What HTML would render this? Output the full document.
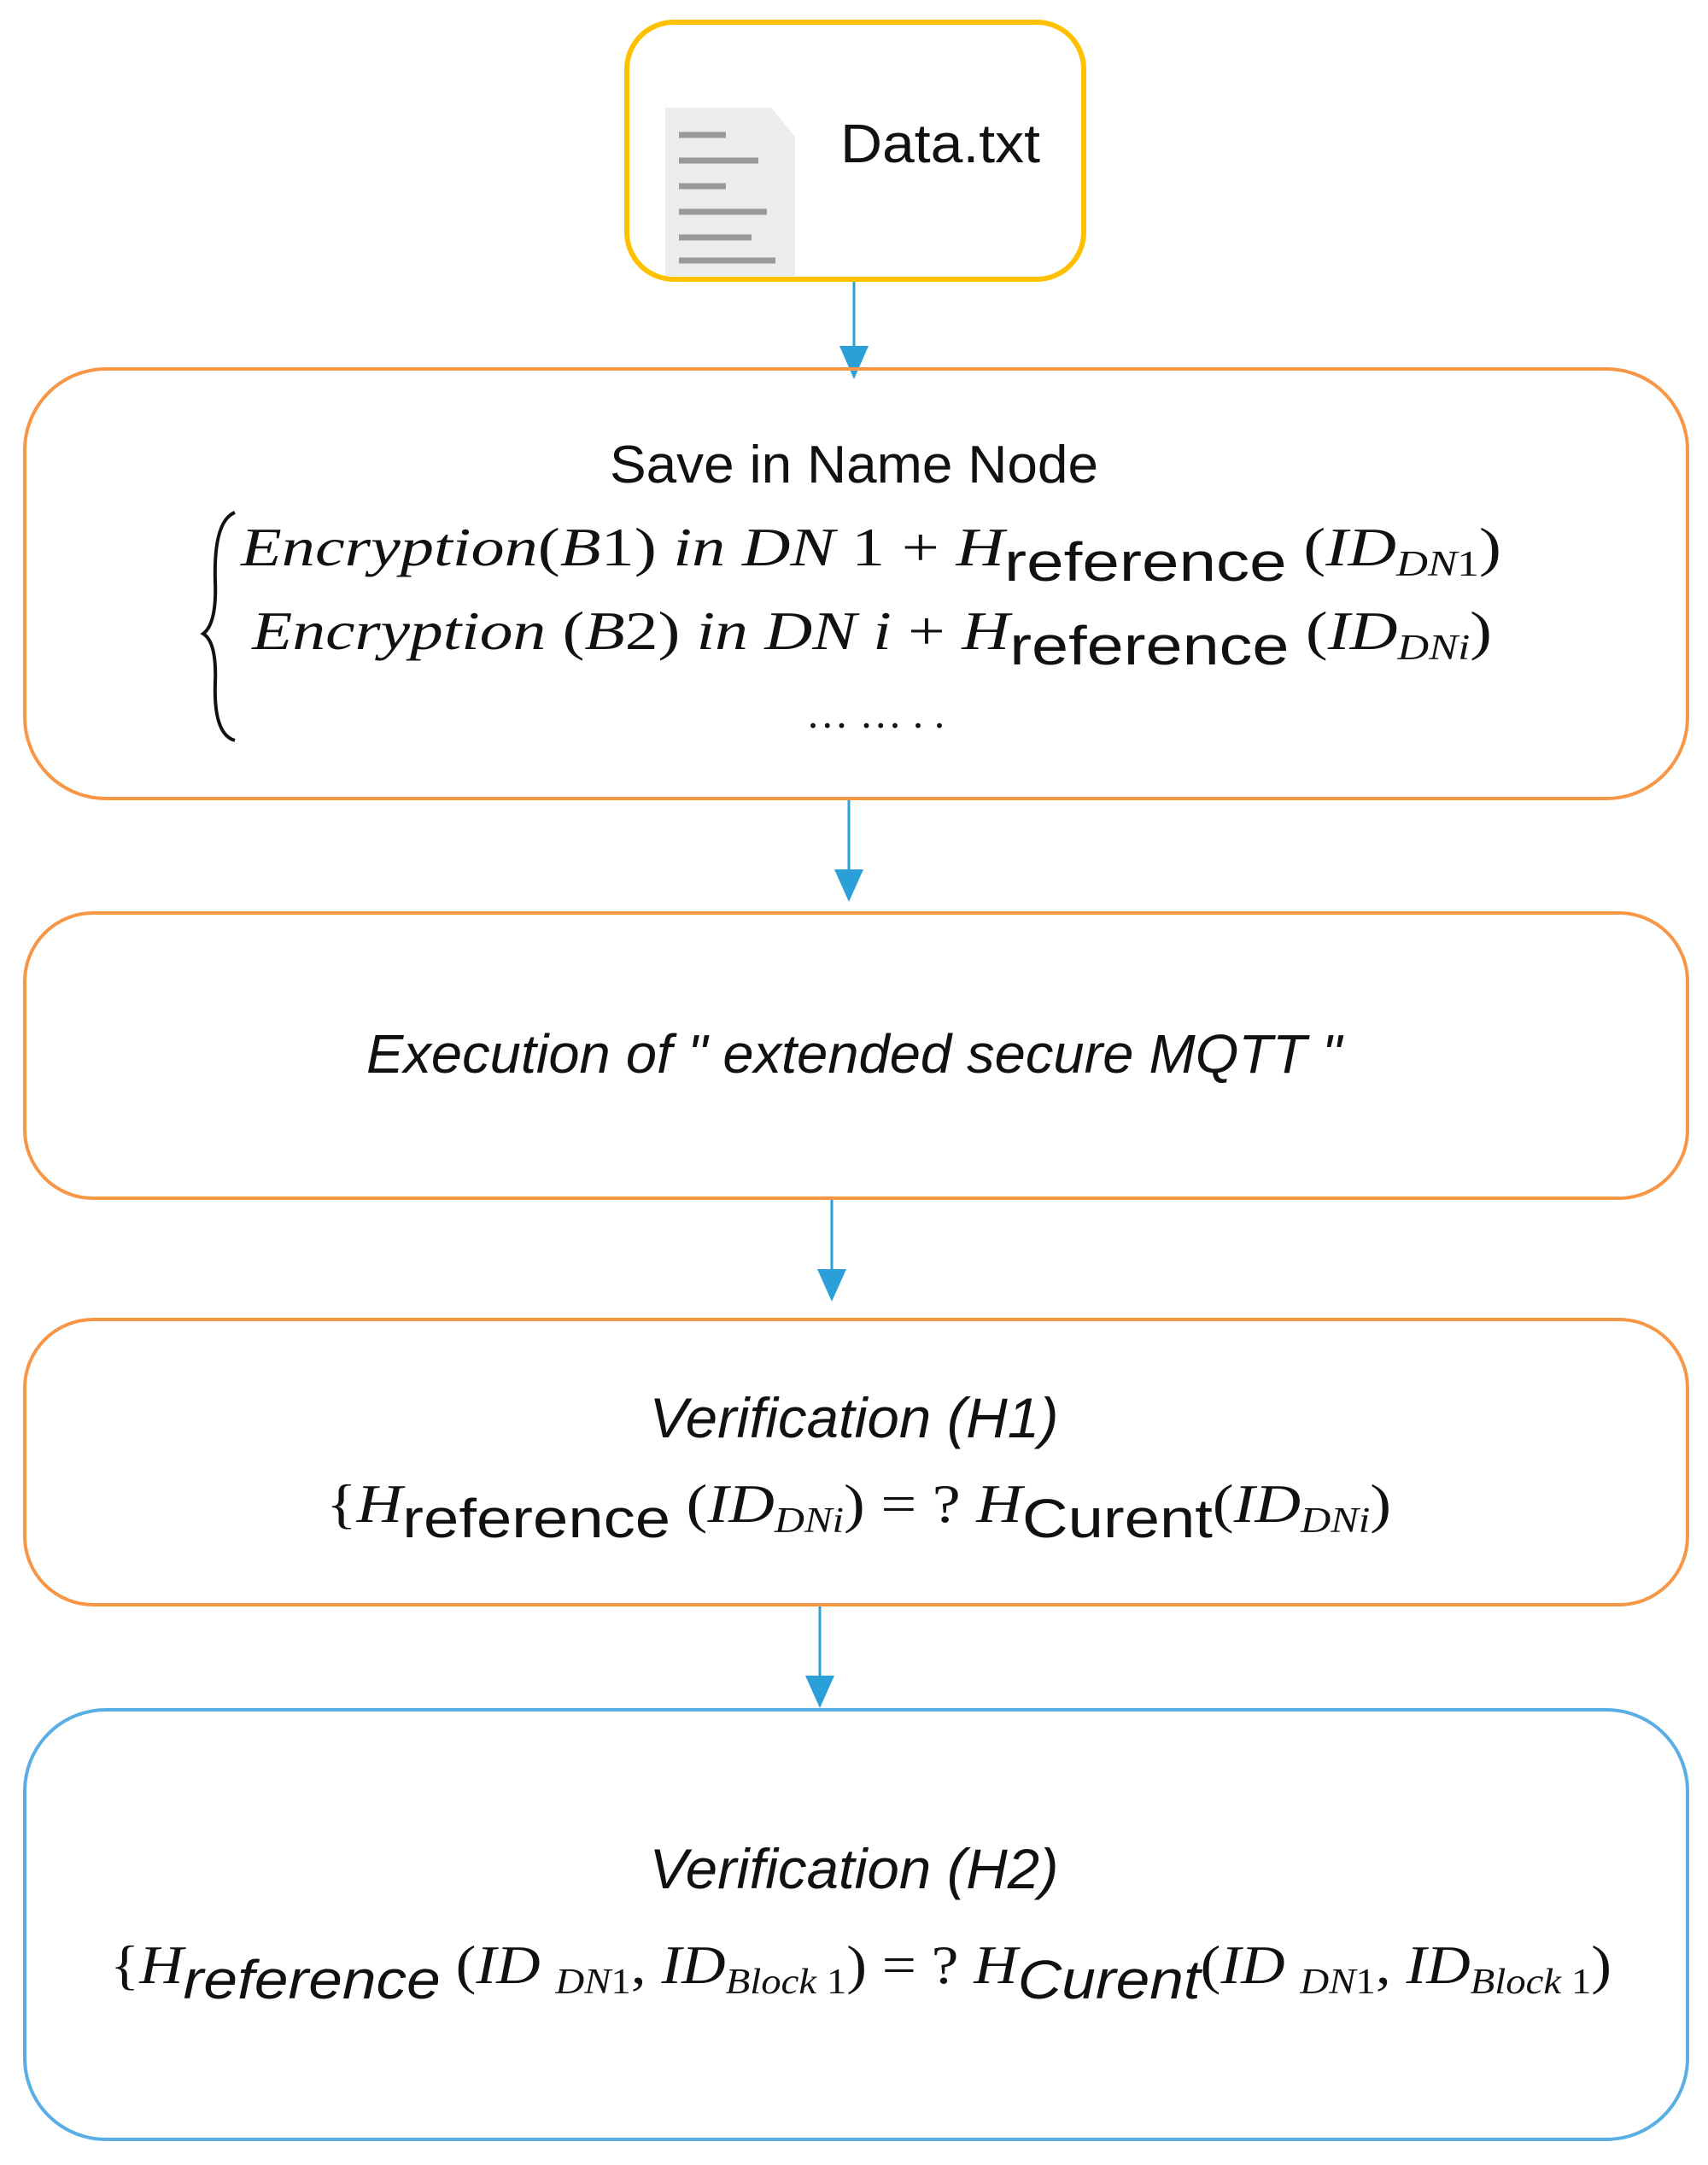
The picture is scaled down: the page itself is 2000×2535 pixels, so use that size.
<!DOCTYPE html>
<html><head><meta charset="utf-8"><style>html,body{margin:0;padding:0;background:#fff}svg{display:block}</style></head><body>
<svg width="2000" height="2535" viewBox="0 0 2000 2535" xmlns="http://www.w3.org/2000/svg" font-family="Liberation Sans, sans-serif">
<g stroke="#2a9fd8" stroke-width="3" fill="#2a9fd8">
<line x1="1000" y1="327" x2="1000" y2="405"/><path d="M983,405 L1017,405 L1000,444 z" stroke="none"/>
<line x1="994" y1="935" x2="994" y2="1018"/><path d="M977,1018 L1011,1018 L994,1056 z" stroke="none"/>
<line x1="974" y1="1403" x2="974" y2="1486"/><path d="M957,1486 L991,1486 L974,1524 z" stroke="none"/>
<line x1="960" y1="1879" x2="960" y2="1962"/><path d="M943,1962 L977,1962 L960,2000 z" stroke="none"/>
</g>
<rect x="734" y="26" width="535" height="301" rx="55" fill="#fff" stroke="#ffc000" stroke-width="6"/>
<path d="M779,126 L903,126 L931,160 L931,323 L779,323 z" fill="#ececec"/>
<g stroke="#999" stroke-width="7"><line x1="795" y1="158" x2="850" y2="158"/><line x1="795" y1="188" x2="888" y2="188"/><line x1="795" y1="218" x2="850" y2="218"/><line x1="795" y1="248" x2="898" y2="248"/><line x1="795" y1="278" x2="880" y2="278"/><line x1="795" y1="305" x2="908" y2="305"/></g>
<text x="984" y="190" font-size="64" fill="#111" textLength="234" lengthAdjust="spacingAndGlyphs">Data.txt</text>
<rect x="29" y="432" width="1947" height="503" rx="95" fill="none" stroke="#f79646" stroke-width="4"/>
<rect x="29" y="1069" width="1947" height="334" rx="80" fill="none" stroke="#f79646" stroke-width="4"/>
<rect x="29" y="1545" width="1947" height="334" rx="80" fill="none" stroke="#f79646" stroke-width="4"/>
<rect x="29" y="2002" width="1947" height="503" rx="95" fill="none" stroke="#5aaee6" stroke-width="4"/>
<g fill="#111" font-family="Liberation Serif, serif">
<text x="1000" y="565" font-family="Liberation Sans, sans-serif" font-size="62" text-anchor="middle" textLength="572" lengthAdjust="spacingAndGlyphs">Save in Name Node</text>
<path d="M275,600 Q250,610 252,680 Q254,730 238,742 Q254,752 252,800 Q250,860 275,867" fill="none" stroke="#111" stroke-width="4"/>
<text x="282" y="662" font-size="64" textLength="1476" lengthAdjust="spacingAndGlyphs"><tspan font-style="italic">Encryption</tspan>(<tspan font-style="italic">B</tspan>1)  <tspan font-style="italic">in DN</tspan> 1 + <tspan font-style="italic">H</tspan><tspan font-family="Liberation Sans, sans-serif" dy="18">reference</tspan><tspan dy="-18"> (</tspan><tspan font-style="italic">ID</tspan><tspan font-style="italic" font-size="42" dy="12">DN</tspan><tspan font-size="42">1</tspan><tspan dy="-12">)</tspan></text>
<text x="295" y="760" font-size="64" textLength="1452" lengthAdjust="spacingAndGlyphs"><tspan font-style="italic">Encryption</tspan> (<tspan font-style="italic">B</tspan>2) <tspan font-style="italic">in DN i</tspan> + <tspan font-style="italic">H</tspan><tspan font-family="Liberation Sans, sans-serif" dy="18">reference</tspan><tspan dy="-18"> (</tspan><tspan font-style="italic">ID</tspan><tspan font-style="italic" font-size="42" dy="12">DNi</tspan><tspan dy="-12">)</tspan></text>
<text x="1025" y="852" font-size="50" text-anchor="middle">… … . .</text>
<text x="1000" y="1256" font-family="Liberation Sans, sans-serif" font-style="italic" font-size="64" text-anchor="middle" textLength="1142" lengthAdjust="spacingAndGlyphs">Execution of " extended secure MQTT "</text>
<text x="1000" y="1683" font-family="Liberation Sans, sans-serif" font-style="italic" font-size="66" text-anchor="middle" textLength="479" lengthAdjust="spacingAndGlyphs">Verification (H1)</text>
<text x="382" y="1782" font-size="64" textLength="1247" lengthAdjust="spacingAndGlyphs">{<tspan font-style="italic">H</tspan><tspan font-family="Liberation Sans, sans-serif" dy="18">reference</tspan><tspan dy="-18"> (</tspan><tspan font-style="italic">ID</tspan><tspan font-style="italic" font-size="42" dy="12">DNi</tspan><tspan dy="-12">) = ? </tspan><tspan font-style="italic">H</tspan><tspan font-family="Liberation Sans, sans-serif" dy="18">Curent</tspan><tspan dy="-18">(</tspan><tspan font-style="italic">ID</tspan><tspan font-style="italic" font-size="42" dy="12">DNi</tspan><tspan dy="-12">)</tspan></text>
<text x="1000" y="2211" font-family="Liberation Sans, sans-serif" font-style="italic" font-size="66" text-anchor="middle" textLength="479" lengthAdjust="spacingAndGlyphs">Verification (H2)</text>
<text x="129" y="2322" font-size="64" textLength="1758" lengthAdjust="spacingAndGlyphs">{<tspan font-style="italic">H</tspan><tspan font-family="Liberation Sans, sans-serif" font-style="italic" dy="18">reference</tspan><tspan dy="-18"> (</tspan><tspan font-style="italic">ID </tspan><tspan font-style="italic" font-size="42" dy="12">DN</tspan><tspan font-size="42">1</tspan><tspan dy="-12">, </tspan><tspan font-style="italic">ID</tspan><tspan font-style="italic" font-size="42" dy="12">Block </tspan><tspan font-size="42">1</tspan><tspan dy="-12">) = ? </tspan><tspan font-style="italic">H</tspan><tspan font-family="Liberation Sans, sans-serif" font-style="italic" dy="18">Curent</tspan><tspan dy="-18">(</tspan><tspan font-style="italic">ID </tspan><tspan font-style="italic" font-size="42" dy="12">DN</tspan><tspan font-size="42">1</tspan><tspan dy="-12">, </tspan><tspan font-style="italic">ID</tspan><tspan font-style="italic" font-size="42" dy="12">Block </tspan><tspan font-size="42">1</tspan><tspan dy="-12">)</tspan></text>
</g>
</svg>
</body></html>
